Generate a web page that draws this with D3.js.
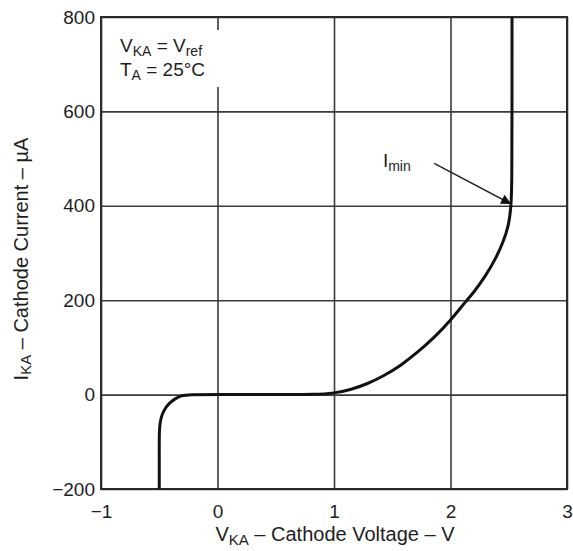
<!DOCTYPE html>
<html>
<head>
<meta charset="utf-8">
<script src="https://cdn.jsdelivr.net/npm/d3@7"></script>
<style>
  body { margin: 0; background: #fff; }
  svg { font-family: "Liberation Sans", Arial, sans-serif; }
</style>
</head>
<body>
<div id="chartContainer"></div>
<script>
const width = 573;
const height = 551;
const marginLeft = 101;
const marginTop = 17;
const marginRight = 6;
const marginBottom = 62;

// cathode voltage (V) vs cathode current (uA)
const voltage = [-0.50, -0.50, -0.50, -0.495, -0.48, -0.45, -0.41, -0.36, -0.31, -0.25, 0.0, 0.5, 0.85, 1.0, 1.14, 1.28, 1.43, 1.57, 1.72, 1.86, 2.0, 2.129, 2.195, 2.30, 2.386, 2.452, 2.50, 2.521, 2.527, 2.528, 2.528];
const current = [-200, -120, -80, -62, -44, -29, -17, -8, -2, 0, 0, 0, 0, 3, 10, 22, 40, 61, 90, 121, 157, 197, 215, 251, 287, 323, 358, 400, 450, 600, 800];

const xTicks = [-1, 0, 1, 2, 3];
const yTicks = [-200, 0, 200, 400, 600, 800];

const iminLabel = { v: 1.42, i: 482 };
const iminArrow = { fromV: 1.86, fromI: 490, toV: 2.52, toI: 404 };

var svg = d3.select("#chartContainer").append("svg")
    .attr("width", width).attr("height", height);

var x = d3.scaleLinear().domain([-1, 3]).range([marginLeft, width - marginRight]);
var y = d3.scaleLinear().domain([-200, 800]).range([height - marginBottom, marginTop]);

// grid
svg.append("g")
    .attr("transform", "translate(0," + (height - marginBottom) + ")")
    .call(d3.axisBottom(x).tickValues(xTicks).tickFormat("").tickSize(-(height - marginBottom - marginTop)))
    .call(g => g.select(".domain").remove())
    .call(g => g.selectAll("line").attr("stroke", "#3a3a3a").attr("stroke-width", 1.6));
svg.append("g")
    .attr("transform", "translate(" + marginLeft + ",0)")
    .call(d3.axisLeft(y).tickValues(yTicks).tickFormat("").tickSize(-(width - marginLeft - marginRight)))
    .call(g => g.select(".domain").remove())
    .call(g => g.selectAll("line").attr("stroke", "#3a3a3a").attr("stroke-width", 1.6));

// frame
svg.append("rect")
    .attr("x", x(-1)).attr("y", y(800))
    .attr("width", x(3) - x(-1)).attr("height", y(-200) - y(800))
    .attr("fill", "none").attr("stroke", "#2a2a2a").attr("stroke-width", 2);

// tick labels
svg.append("g")
    .attr("transform", "translate(0," + (height - marginBottom) + ")")
    .call(d3.axisBottom(x).tickValues(xTicks).tickFormat(d3.format("d")).tickSize(0).tickPadding(16))
    .call(g => g.select(".domain").remove())
    .call(g => g.selectAll("text").attr("font-size", 19).attr("font-family", null).attr("fill", "#1e1e1e"));
svg.append("g")
    .attr("transform", "translate(" + marginLeft + ",0)")
    .call(d3.axisLeft(y).tickValues(yTicks).tickFormat(d3.format("d")).tickSize(0).tickPadding(6))
    .call(g => g.select(".domain").remove())
    .call(g => g.selectAll("text").attr("font-size", 19).attr("font-family", null).attr("fill", "#1e1e1e"));

// conditions box
svg.append("rect")
    .attr("x", 110).attr("y", 30).attr("width", 114).attr("height", 57).attr("fill", "#fff");
var cond = svg.append("g").attr("font-size", 19).attr("fill", "#1e1e1e");
var t1 = cond.append("text").attr("x", 120).attr("y", 52);
t1.append("tspan").text("V");
t1.append("tspan").attr("font-size", 14).attr("dy", 4).text("KA");
t1.append("tspan").attr("dy", -4).text(" = V");
t1.append("tspan").attr("font-size", 14).attr("dy", 4).text("ref");
var t2 = cond.append("text").attr("x", 120).attr("y", 76);
t2.append("tspan").text("T");
t2.append("tspan").attr("font-size", 14).attr("dy", 4).text("A");
t2.append("tspan").attr("dy", -4).text(" = 25°C");

// curve
var pts = voltage.map((v, i) => [v, current[i]]);
var line = d3.line()
    .x(d => x(d[0]))
    .y(d => y(d[1]))
    .curve(d3.curveBasis);
svg.append("path")
    .attr("d", line(pts))
    .attr("fill", "none")
    .attr("stroke", "#111")
    .attr("stroke-width", 3);

// Imin annotation
svg.append("defs").append("marker")
    .attr("id", "arrow").attr("viewBox", "0 0 10 10")
    .attr("refX", 10).attr("refY", 5)
    .attr("markerWidth", 15).attr("markerHeight", 10)
    .attr("markerUnits", "userSpaceOnUse")
    .attr("orient", "auto")
    .append("path").attr("d", "M0,0L10,5L0,10Z").attr("fill", "#111");
svg.append("line")
    .attr("x1", x(iminArrow.fromV)).attr("y1", y(iminArrow.fromI))
    .attr("x2", x(iminArrow.toV)).attr("y2", y(iminArrow.toI))
    .attr("stroke", "#222").attr("stroke-width", 1.5)
    .attr("marker-end", "url(#arrow)");
var im = svg.append("text").attr("x", x(iminLabel.v)).attr("y", y(iminLabel.i))
    .attr("font-size", 19).attr("fill", "#1e1e1e");
im.append("tspan").text("I");
im.append("tspan").attr("font-size", 14).attr("dy", 4).text("min");

// axis titles
var xt = svg.append("text")
    .attr("x", 335).attr("y", 541)
    .attr("text-anchor", "middle").attr("font-size", 20).attr("fill", "#1e1e1e");
xt.append("tspan").text("V");
xt.append("tspan").attr("font-size", 15).attr("dy", 4).text("KA");
xt.append("tspan").attr("dy", -4).text(" – Cathode Voltage – V");

var yt = svg.append("text")
    .attr("transform", "translate(28," + 259 + ") rotate(-90)")
    .attr("text-anchor", "middle").attr("font-size", 20).attr("fill", "#1e1e1e");
yt.append("tspan").text("I");
yt.append("tspan").attr("font-size", 15).attr("dy", 3).text("KA");
yt.append("tspan").attr("dy", -3).text(" – Cathode Current –  µA");
</script>
</body>
</html>
